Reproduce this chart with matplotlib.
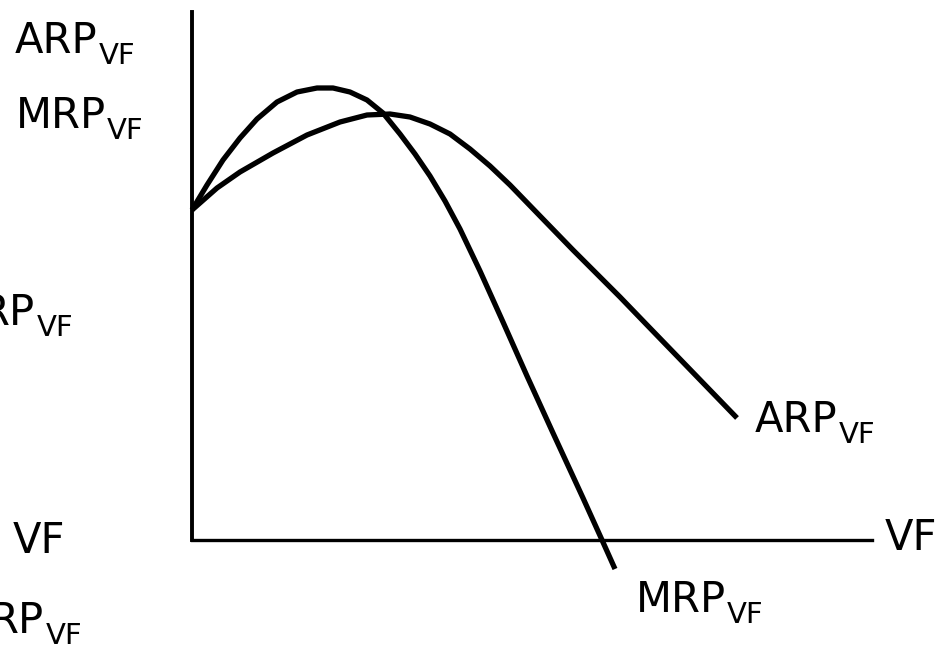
import matplotlib
matplotlib.use("Agg")
import matplotlib.pyplot as plt

# curve readings, in pixels right of / above the origin
mrp_x = [0, 15, 31, 48, 65, 85, 105, 125, 141, 158, 175, 191, 208, 223,
         238, 253, 268, 288, 311, 335, 361, 391, 410, 423]
mrp_y = [330, 355, 380, 402, 421, 438, 448, 452, 452, 448, 440, 427, 406, 386,
         364, 339, 311, 269, 218, 164, 107, 42, 0, -29]

arp_x = [0, 25, 48, 81, 115, 148, 175, 198, 218, 238, 258, 278, 298, 318,
         348, 381, 428, 455, 545]
arp_y = [330, 352, 368, 387, 405, 418, 425, 426, 423, 416, 406, 391, 374, 355,
         324, 290, 243, 215, 122]

W, H = 938, 654
fig = plt.figure(figsize=(W / 100, H / 100), dpi=100)
fig.set_facecolor('white')

# axes box: origin at (192,540) px, x to 872, y to 12
ax = fig.add_axes([192 / W, (H - 540) / H, (872 - 192) / W, (540 - 12) / H])
ax.set_xlim(0, 680)
ax.set_ylim(0, 528)
ax.set_xticks([])
ax.set_yticks([])
for s in ['top', 'right']:
    ax.spines[s].set_visible(False)
ax.spines['left'].set_linewidth(2.8)
ax.spines['bottom'].set_linewidth(2.4)
ax.patch.set_alpha(0)

for xs, ys in [(mrp_x, mrp_y), (arp_x, arp_y)]:
    ax.plot(xs, ys, color='black', lw=3.8, solid_capstyle='butt',
            solid_joinstyle='round', clip_on=False)

fs = 30
fs_sub = 21
rend = fig.canvas.get_renderer()


def lab(x, y, main, sub=None, right=False):
    # x, y: left (or right end) and baseline, in pixels from top-left
    t = fig.text(x / W, 1 - y / H, main, fontsize=fs, ha='left',
                 va='baseline', family='DejaVu Sans')
    bb = t.get_window_extent(rend)
    s = None
    if sub:
        s = fig.text((bb.x1 + 1) / W, 1 - (y + 11) / H, sub, fontsize=fs_sub,
                     ha='left', va='baseline', family='DejaVu Sans')
    if right:
        end = s.get_window_extent(rend).x1 if s else bb.x1
        dx = (x - end) / W
        t.set_x(t.get_position()[0] + dx)
        if s:
            s.set_x(s.get_position()[0] + dx)


lab(15, 53, 'ARP', 'VF')
lab(16, 128, 'MRP', 'VF')
lab(73, 325, 'RP', 'VF', right=True)
lab(13, 553, 'VF')
lab(82, 633, 'RP', 'VF', right=True)
lab(885, 550, 'VF')
lab(755, 432, 'ARP', 'VF')
lab(636, 612, 'MRP', 'VF')

fig.savefig('out.png', dpi=100)
